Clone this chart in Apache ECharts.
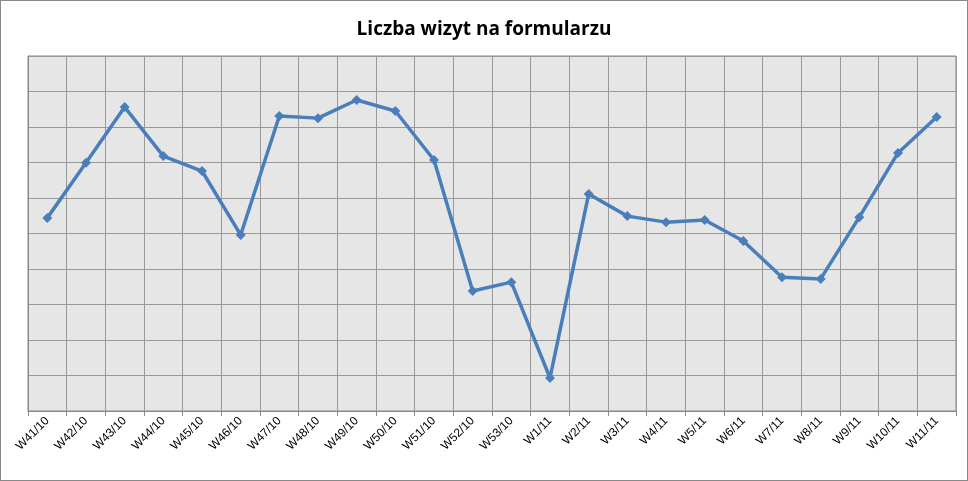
<!DOCTYPE html>
<html><head><meta charset="utf-8">
<script src="https://cdn.jsdelivr.net/npm/echarts@6/dist/echarts.min.js"></script>
<style>html,body{margin:0;padding:0;background:#fff}#c{width:966px;height:479px;border:1px solid #888}</style>
</head><body><div id="c"></div>
<script>
const categories=["W41/10","W42/10","W43/10","W44/10","W45/10","W46/10","W47/10","W48/10","W49/10","W50/10","W51/10","W52/10","W53/10","W1/11","W2/11","W3/11","W4/11","W5/11","W6/11","W7/11","W8/11","W9/11","W10/11","W11/11"];
const values=[5.44,6.99,8.56,7.18,6.76,4.96,8.31,8.25,8.76,8.45,7.07,3.38,3.63,0.93,6.11,5.49,5.32,5.38,4.79,3.77,3.72,5.46,7.27,8.28];
const chart=echarts.init(document.getElementById('c'));
chart.setOption({
 title:{text:'Liczba wizyt na formularzu',left:'center',top:14,textStyle:{fontFamily:'Open Sans',fontWeight:'bold',fontSize:19,color:'#000'}},
 grid:{left:27,right:11,top:55,bottom:69,backgroundColor:'#e6e6e6',show:true,borderColor:'#888',borderWidth:1},
 xAxis:{type:'category',data:categories,boundaryGap:true,
  axisLine:{lineStyle:{color:'#888'}},axisTick:{show:true,interval:0,lineStyle:{color:'#888'}},
  axisLabel:{interval:0,rotate:45,color:'#000',fontFamily:'Liberation Sans',fontSize:12,margin:8},
  splitLine:{show:true,interval:0,lineStyle:{color:'#999'}}},
 yAxis:{type:'value',min:0,max:10,interval:1,axisLabel:{show:false},axisLine:{show:true,lineStyle:{color:'#888'}},axisTick:{show:false},splitLine:{lineStyle:{color:'#999'}}},
 series:[{type:'line',data:values,symbol:'diamond',symbolSize:10,lineStyle:{color:'#4a7ebb',width:3.5},itemStyle:{color:'#4a7ebb'}}]
});
</script></body></html>
